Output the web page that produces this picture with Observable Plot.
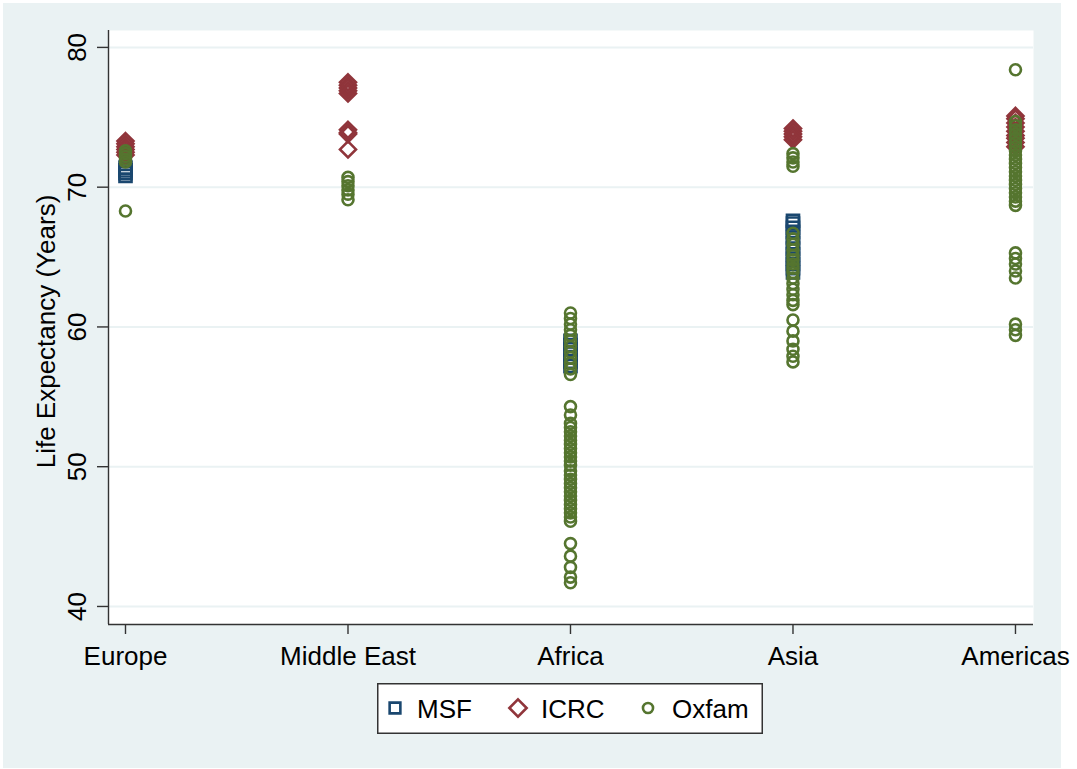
<!DOCTYPE html>
<html>
<head>
<meta charset="utf-8">
<script src="https://cdn.jsdelivr.net/npm/d3@7"></script>
<script src="https://cdn.jsdelivr.net/npm/@observablehq/plot@0.6"></script>
<style>
  body { margin: 0; background: #ffffff; font-family: "Liberation Sans", Arial, sans-serif; }
  #page { position: relative; width: 1077px; height: 769px; overflow: hidden; }
  #bg { position: absolute; left: 3px; top: 3px; width: 1058px; height: 765px; background: #EAF2F3; }
  #chart { position: absolute; left: 0; top: 0; }
  #legend { position: absolute; left: 377px; top: 683px; }
</style>
</head>
<body>
<div id="page">
  <div id="bg"></div>
  <div id="chart"></div>
  <div id="legend"></div>
</div>
<script>
// ---- Data ----
const regions = ["Europe", "Middle East", "Africa", "Asia", "Americas"];
const seriesNames = ["MSF", "ICRC", "Oxfam"];
const seriesColors = ["#1A476F", "#90353B", "#55752F"];
const yTicks = [40, 50, 60, 70, 80];

// values per region, in the order of `regions`
const msfLife = [
  [71.4, 71.2, 71.0, 70.8],
  [],
  [59.0, 58.7, 58.4, 58.1, 57.8, 57.5, 57.2],
  [67.6, 67.4, 67.1, 66.8, 66.4, 66.0, 65.6, 65.2, 64.9, 64.5, 64.2, 63.9],
  []
];
const icrcLife = [
  [73.3, 73.1, 72.9, 72.7, 72.5, 72.3],
  [77.5, 77.3, 77.1, 76.9, 76.7, 74.1, 73.9, 73.8, 72.7],
  [],
  [74.2, 74.0, 73.8, 73.6, 73.4],
  [75.1, 74.9, 74.6, 74.3, 74.0, 73.7, 73.5, 73.2, 72.9]
];
const oxfamLife = [
  [72.6, 72.4, 72.2, 72.0, 71.8, 68.3],
  [70.7, 70.4, 70.1, 69.8, 69.5, 69.1],
  [61.0, 60.6, 60.2, 59.8, 59.4, 59.0, 58.6, 58.2, 57.8, 57.4, 57.0, 56.6,
   54.3, 53.7, 53.1, 52.8, 52.5, 52.2, 51.9, 51.6, 51.3, 51.0, 50.7, 50.4,
   50.1, 49.7, 49.4, 49.1, 48.8, 48.5, 48.2, 47.9, 47.6, 47.3, 47.0, 46.7,
   46.4, 46.1, 44.5, 43.6, 42.8, 42.1, 41.7],
  [72.4, 72.1, 71.8, 71.5, 66.7, 66.3, 65.9, 65.5, 65.1, 64.8, 64.5, 64.2,
   63.9, 63.5, 63.1, 62.7, 62.3, 61.9, 61.6, 60.5, 59.7, 59.0, 58.4, 57.9, 57.5],
  [78.4, 74.7, 74.4, 74.1, 73.8, 73.5, 73.2, 72.9, 72.6, 72.3, 72.0, 71.7,
   71.4, 71.1, 70.8, 70.5, 70.2, 69.9, 69.6, 69.3, 69.0, 68.7,
   65.3, 64.9, 64.5, 64.0, 63.5, 60.2, 59.8, 59.4]
];

// ---- Build tidy rows ----
function toRows(name, lists) {
  const out = [];
  lists.forEach((vals, i) => vals.forEach(v => out.push({series: name, region: i + 1, value: v})));
  return out;
}
const msfRows = toRows("MSF", msfLife);
const icrcRows = toRows("ICRC", icrcLife);
const oxfamRows = toRows("Oxfam", oxfamLife);

const xDomain = [0.9236, 5.081];
const yDomain = [38.71, 81.21];
const axisColor = "#333333";
const gridColor = "#EAF2F3";
const mw = 2.6;

const chart = Plot.plot({
  width: 1077,
  height: 680,
  marginLeft: 108,
  marginRight: 44,
  marginTop: 30,
  marginBottom: 56,
  style: {background: "transparent", fontFamily: "'Liberation Sans', Arial, sans-serif", fontSize: "26px", color: "#000"},
  x: {type: "linear", domain: xDomain},
  y: {type: "linear", domain: yDomain},
  marks: [
    Plot.frame({fill: "white", stroke: "none"}),
    Plot.ruleY(yTicks, {stroke: gridColor, strokeWidth: 2}),
    Plot.ruleX([xDomain[0]], {stroke: axisColor, strokeWidth: 1.4}),
    Plot.ruleY([yDomain[0]], {stroke: axisColor, strokeWidth: 1.4}),
    Plot.axisY({ticks: yTicks, tickSize: 11, tickFormat: () => "", label: null, stroke: axisColor, strokeWidth: 1.4}),
    Plot.text(yTicks, {y: d => d, text: d => String(d), frameAnchor: "left", dx: -31, rotate: -90,
      fontSize: 26, textAnchor: "middle", lineAnchor: "middle", fill: "#000"}),
    Plot.text(["Life Expectancy (Years)"], {frameAnchor: "left", dx: -62, dy: 4, rotate: -90,
      fontSize: 26, textAnchor: "middle", lineAnchor: "middle", fill: "#000"}),
    Plot.axisX({ticks: [1, 2, 3, 4, 5], tickSize: 10, tickPadding: 12, tickFormat: i => regions[i - 1],
      label: null, fontSize: 26, stroke: axisColor, strokeWidth: 1.4, fill: "#000"}),
    Plot.dot(msfRows, {x: "region", y: "value", symbol: "square", r: 6.8, stroke: seriesColors[0], strokeWidth: mw, fill: "none"}),
    Plot.dot(icrcRows, {x: "region", y: "value", symbol: "diamond2", r: 7.2, stroke: seriesColors[1], strokeWidth: mw, fill: "none"}),
    Plot.dot(oxfamRows, {x: "region", y: "value", symbol: "circle", r: 5.5, stroke: seriesColors[2], strokeWidth: mw, fill: "none"})
  ]
});
document.getElementById("chart").appendChild(chart);

// ---- Legend ----
const legendW = 386, legendH = 51;
const lg = d3.select("#legend").append("svg")
  .attr("width", legendW).attr("height", legendH)
  .style("font-family", "'Liberation Sans', Arial, sans-serif");
lg.append("rect").attr("x", 0.75).attr("y", 0.75).attr("width", legendW - 1.5).attr("height", legendH - 1.5)
  .attr("fill", "white").attr("stroke", axisColor).attr("stroke-width", 1.5);
const symbolTypes = [d3.symbolSquare, d3.symbolDiamond2, d3.symbolCircle];
const symbolSizes = [115, 190, 80];
const iconX = [18, 141, 271];
const textX = [40, 164, 295];
seriesNames.forEach((name, i) => {
  lg.append("path")
    .attr("d", d3.symbol(symbolTypes[i], symbolSizes[i])())
    .attr("transform", `translate(${iconX[i]},${25})`)
    .attr("fill", "none").attr("stroke", seriesColors[i]).attr("stroke-width", mw);
  lg.append("text").attr("x", textX[i]).attr("y", 35)
    .attr("font-size", 26).attr("fill", "#000").text(name);
});
</script>
</body>
</html>
